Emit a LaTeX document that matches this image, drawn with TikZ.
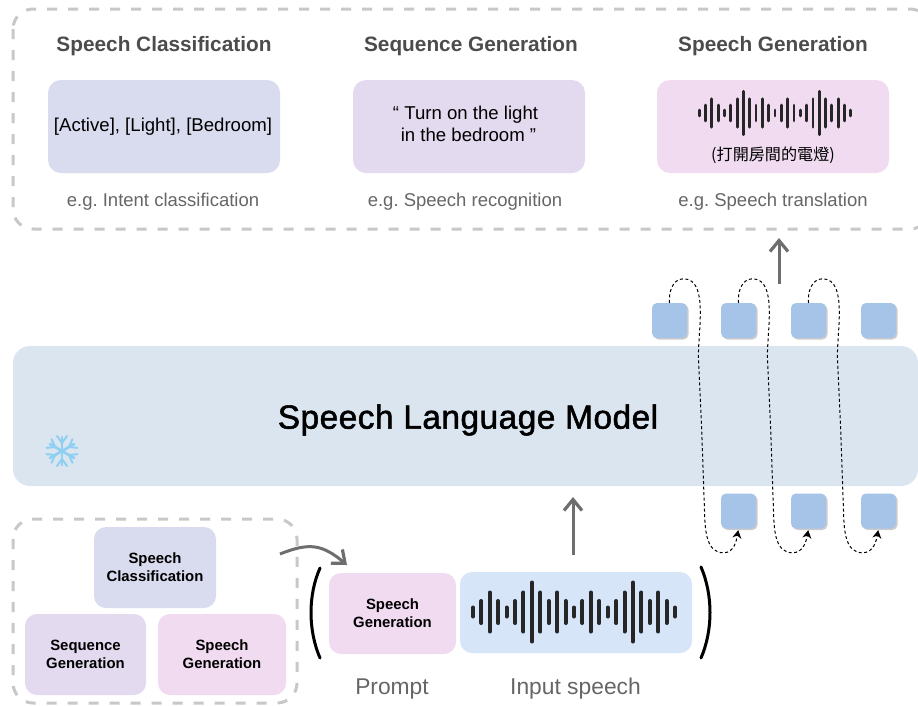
\documentclass[tikz,border=0pt]{standalone}
\usepackage{fontspec}
\setmainfont{Liberation Sans}
\newfontfamily\cjkfont{Noto Sans CJK TC}
\newfontfamily\modelfont[FakeBold=1.6,LetterSpace=1.5]{Liberation Sans}
\usetikzlibrary{arrows.meta,shadows}
\definecolor{classbox}{HTML}{D9DBEE}
\definecolor{seqbox}{HTML}{E4DAF0}
\definecolor{genbox}{HTML}{F0DBF0}
\definecolor{inputbox}{HTML}{D6E5F8}
\definecolor{modelbox}{HTML}{DBE5F0}
\definecolor{tokenbox}{HTML}{A6C3E8}
\definecolor{dashgray}{HTML}{C8C8C8}
\definecolor{arrowgray}{HTML}{6E6E6E}
\definecolor{flakeblue}{HTML}{8FD0F2}
\tikzset{
  panel/.style={rounded corners=13pt,minimum width=232pt,minimum height=93pt,inner sep=0pt},
  paneltext/.style={align=center,inner sep=0pt,font=\fontsize{18.6}{22}\selectfont},
  smallbox/.style={rounded corners=12pt,minimum height=81pt,inner sep=0pt,align=center,font=\fontsize{14.9}{18.3}\selectfont\bfseries},
  token/.style={fill=tokenbox,rounded corners=5pt,minimum size=35pt,inner sep=0pt,drop shadow={shadow xshift=1.5pt,shadow yshift=-1.5pt,opacity=0.2,fill=black}},
  dashbox/.style={draw=dashgray,line width=3pt,dash pattern=on 10pt off 11pt,rounded corners=20pt},
  title/.style={text=black!70,font=\fontsize{20.8}{24}\selectfont\bfseries},
  note/.style={text=black!60,font=\fontsize{18.5}{22}\selectfont},
  caption/.style={text=black!60,font=\fontsize{22.8}{26}\selectfont},
  grayarrow/.style={draw=arrowgray,line width=3pt,-{Straight Barb[length=11pt,width=18pt,line width=3.2pt]}},
  loopline/.style={line width=1pt,dash pattern=on 3pt off 2.5pt,shorten >=1.5pt,-{Stealth[length=8pt,width=9pt,inset=2.5pt]}},
  paren/.style={line width=3pt,line cap=round},
}
\newcommand{\speechwave}[4]{% x, y, scale, bar width
  \foreach \barh [count=\barn] in {6,12.5,21,12.5,6,12.5,21,31,21,12.5,21,12.5,6,12.5,21,12.5,6,12.5,21,31,21,12.5,21,12.5,6}
    \draw[line width=#4,line cap=round,black!85] ({#1+(\barn-13)*8.42*#3},{#2-\barh*#3+1.5}) -- ({#1+(\barn-13)*8.42*#3},{#2+\barh*#3-1.5});
}
\begin{document}
\frenchspacing
\begin{tikzpicture}[x=1pt,y=-1pt]
  \clip (0,0) rectangle (918,705);
  \fill[white] (0,0) rectangle (918,705);

  % outputs
  \draw[dashbox] (13,9) rectangle (930,229);
  \node[title] (titlea) at (164,46) {Speech Classification};
  \node[title] (titleb) at (471,46) {Sequence Generation};
  \node[title] (titlec) at (773,46) {Speech Generation};
  \node[panel,fill=classbox] (outa) at (164,126.5) {};
  \node[panel,fill=seqbox] (outb) at (469,126.5) {};
  \node[panel,fill=genbox] (outc) at (773,126.5) {};
  \node[paneltext] (texta) at (163,127) {[Active], [Light], [Bedroom]};
  \node[paneltext] (textb) at (468.5,124) {“ Turn on the light\rule{6pt}{0pt}\\ in the bedroom ”};
  \speechwave{775}{113}{0.75}{2.8pt}
  \node[font=\fontsize{16.1}{18}\selectfont\cjkfont] (zh) at (773,155) {(打開房間的電燈)};
  \node[note] (notea) at (163,202) {e.g. Intent classification};
  \node[note] (noteb) at (465,202) {e.g. Speech recognition};
  \node[note] (notec) at (773,202) {e.g. Speech translation};

  % model
  \node[fill=modelbox,rounded corners=17pt,minimum width=905pt,minimum height=140pt,inner sep=0pt] (model) at (465.5,416) {};
  \node[font=\fontsize{33.4}{38}\selectfont\modelfont] (modelname) at (468,420) {Speech Language Model};
  \foreach \a in {0,60,...,300}{
    \begin{scope}[shift={(62,451)},rotate=\a]
      \draw[line width=2.6pt,line cap=round,flakeblue] (0,0) -- (0,-14);
      \draw[line width=2pt,line cap=round,flakeblue] (0,-8) -- (-5,-15) (0,-8) -- (5,-15);
    \end{scope}
  }

  % tokens
  \node[token] (topa) at (669.5,320.5) {};
  \node[token] (topb) at (738.5,320.5) {};
  \node[token] (topc) at (808.5,320.5) {};
  \node[token] (topd) at (878.5,320.5) {};
  \node[token] (ina) at (738.5,511) {};
  \node[token] (inb) at (808.5,511) {};
  \node[token] (inc) at (878.5,511) {};
  \foreach \f/\t in {topa/ina,topb/inb,topc/inc}
    \draw[loopline] (\f.north) to[out=95,in=180] ++(14,-24) to[out=0,in=93,looseness=0.8] ++(15,82) to[out=-87,in=92] ++(6,150) to[out=-88,in=180] ++(19,42) to[out=0,in=-100] (\t.south);

  \coordinate (outfrom) at (779,284);
  \coordinate (outto) at (779,238);
  \draw[grayarrow] (outfrom) -- (outto);
  \coordinate (infrom) at (573,555);
  \coordinate (into) at (573,497);
  \draw[grayarrow] (infrom) -- (into);

  % prompt pool
  \draw[dashbox] (13,519) rectangle (297,703);
  \node[smallbox,fill=classbox,minimum width=122pt] (poola) at (155,567.5) {Speech\\Classification};
  \node[smallbox,fill=seqbox,minimum width=121pt] (poolb) at (85.5,654.5) {Sequence\\Generation};
  \node[smallbox,fill=genbox,minimum width=128pt] (poolc) at (222,654.5) {Speech\\Generation};

  % input
  \node[smallbox,fill=genbox,minimum width=127pt] (prompt) at (392.5,613.5) {Speech\\Generation};
  \node[fill=inputbox,rounded corners=12pt,minimum width=232pt,minimum height=81pt,inner sep=0pt] (speech) at (576,612.5) {};
  \speechwave{574}{612}{1}{4pt}
  \coordinate (pickfrom) at (280,554);
  \coordinate (pickto) at (347,565);
  \draw[grayarrow] (pickfrom) to[out=22,in=140,looseness=1.2] (pickto);
  \draw[paren] (320,568) .. controls (308,595) and (308,630) .. (320,658);
  \draw[paren] (701,567) .. controls (713,595) and (713,630) .. (701,658);
  \node[caption] (promptname) at (392,689) {Prompt};
  \node[caption] (speechname) at (575.5,689) {Input speech};
\end{tikzpicture}
\end{document}
